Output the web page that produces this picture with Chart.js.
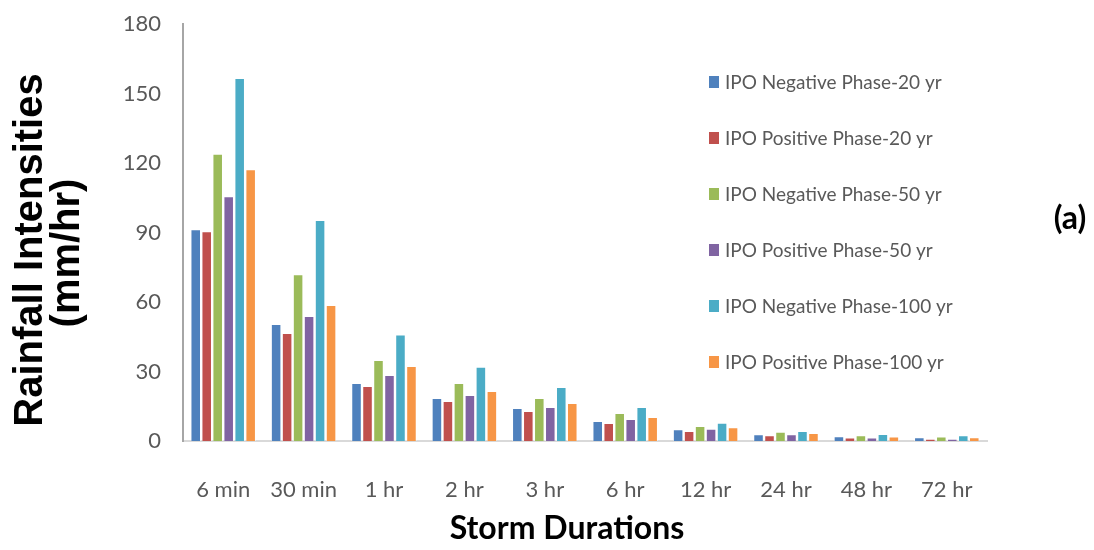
<!DOCTYPE html>
<html>
<head>
<meta charset="utf-8">
<script src="https://cdn.jsdelivr.net/npm/chart.js@4.4.1/dist/chart.umd.min.js"></script>
<style>
  body { margin: 0; background: #fff; }
  #wrap { width: 1094px; height: 550px; }
</style>
</head>
<body>
<div id="wrap"><canvas id="myChart" width="1094" height="550"></canvas></div>
<script>
// datos
const durations = ['6 min', '30 min', '1 hr', '2 hr', '3 hr', '6 hr', '12 hr', '24 hr', '48 hr', '72 hr'];
const seriesNames = [
  'IPO Negative Phase-20 yr',
  'IPO Positive Phase-20 yr',
  'IPO Negative Phase-50 yr',
  'IPO Positive Phase-50 yr',
  'IPO Negative Phase-100 yr',
  'IPO Positive Phase-100 yr'
];
const neg20  = [91.4, 50.5, 25.0, 18.6, 14.2, 8.6, 5.1, 2.9, 2.0, 1.6];
const pos20  = [90.5, 46.6, 23.7, 17.3, 12.9, 7.8, 4.3, 2.5, 1.5, 1.0];
const neg50  = [124.0, 72.0, 35.0, 25.0, 18.6, 12.1, 6.5, 4.0, 2.5, 1.9];
const pos50  = [105.7, 54.0, 28.5, 19.9, 14.7, 9.5, 5.3, 2.9, 1.5, 1.0];
const neg100 = [156.7, 95.4, 46.0, 32.0, 23.3, 14.7, 7.9, 4.3, 3.0, 2.5];
const pos100 = [117.3, 58.7, 32.4, 21.6, 16.4, 10.4, 5.9, 3.4, 1.9, 1.6];
const yTicks = [0, 30, 60, 90, 120, 150, 180];

const colores = ['#4f81bd', '#c0504d', '#9bbb59', '#8064a2', '#4bacc6', '#f79646'];
const valores = [neg20, pos20, neg50, pos50, neg100, pos100];

const fuente = "Lato, 'DejaVu Sans Condensed', sans-serif";

// leyenda propia y titulos de ejes
const leyendaPlugin = {
  id: 'leyendaPlugin',
  afterDraw(chart) {
    const ctx = chart.ctx;
    const area = chart.chartArea;
    ctx.save();
    chart.data.datasets.forEach((ds, i) => {
      const y = area.top + 58 + i * 56;
      const x = area.left + 526;
      ctx.fillStyle = ds.backgroundColor;
      ctx.fillRect(x, y - 6, 10, 12);
      ctx.fillStyle = '#595959';
      ctx.font = '19px ' + fuente;
      ctx.textBaseline = 'middle';
      ctx.textAlign = 'left';
      ctx.fillText(ds.label, x + 16, y + 1);
    });
    // etiqueta (a)
    ctx.fillStyle = '#000';
    ctx.font = 'bold 32px ' + fuente;
    ctx.textAlign = 'center';
    ctx.fillText('(a)', 1070, 219);

    // titulo eje x
    ctx.font = 'bold 32px ' + fuente;
    ctx.fillText('Storm Durations', 567, 529);

    // titulo eje y (rotado)
    ctx.translate(0, 250);
    ctx.rotate(-Math.PI / 2);
    ctx.font = "bold 40px 'Liberation Sans', Arial, sans-serif";
    ctx.fillText('Rainfall Intensities', 0, 31);
    ctx.fillText('(mm/hr)', -3, 68);
    ctx.restore();
  }
};

const data = {
  labels: durations,
  datasets: seriesNames.map((name, i) => ({
    label: name,
    data: valores[i],
    backgroundColor: colores[i],
    borderColor: 'rgba(255,255,255,0.5)',
    borderWidth: 1,
    categoryPercentage: 0.82,
    barPercentage: 0.96
  }))
};

const config = {
  type: 'bar',
  data,
  options: {
    responsive: false,
    animation: false,
    layout: { padding: { top: 24, right: 107, left: 0, bottom: 0 } },
    plugins: {
      legend: { display: false },
      tooltip: { enabled: false }
    },
    scales: {
      x: {
        grid: { display: false, drawTicks: false },
        border: { color: '#d9d9d9', width: 2 },
        ticks: { color: '#595959', font: { family: fuente, size: 22 }, padding: 36, maxRotation: 0, autoSkip: false },
        afterFit(scale) { scale.height = 109; }
      },
      y: {
        min: 0,
        max: 180,
        afterBuildTicks(scale) { scale.ticks = yTicks.map(v => ({ value: v })); },
        grid: { display: false, drawTicks: false },
        border: { color: '#a6a6a6', width: 2 },
        ticks: { color: '#595959', font: { family: fuente, size: 22 }, padding: 22 },
        afterFit(scale) {
          scale.width = 183;
          scale.paddingTop = 0;
          scale.paddingBottom = 0;
        }
      }
    }
  },
  plugins: [leyendaPlugin]
};

const myChart = new Chart(document.getElementById('myChart'), config);
</script>
</body>
</html>
